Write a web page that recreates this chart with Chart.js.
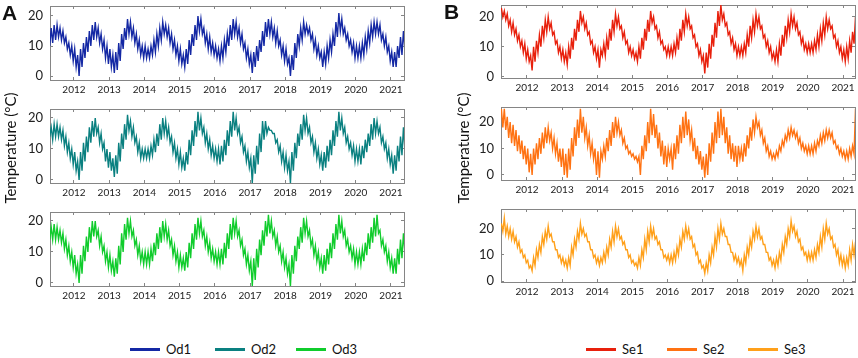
<!DOCTYPE html>
<html>
<head>
<meta charset="utf-8">
<script src="https://cdn.jsdelivr.net/npm/chart.js@4.4.0/dist/chart.umd.min.js"></script>
<style>
  body { margin: 0; background: #fff; }
  #wrap { position: relative; width: 858px; height: 358px; overflow: hidden; font-family: Lato, "Open Sans", sans-serif; color: #111; }
  canvas { position: absolute; }
  .tag { position: absolute; font: bold 21px "Liberation Sans", Arial, sans-serif; }
  .ytitle { position: absolute; font-size: 15px; white-space: nowrap; transform: translate(-50%, -50%) rotate(-90deg); }
  .leg { position: absolute; font-size: 13px; white-space: nowrap; }
  .leg i { position: absolute; height: 3px; width: 30px; }
</style>
</head>
<body>
<div id="wrap"></div>
<script>
// monthly values from Apr 2011 to May 2021, two per month (high, low), °C
var startYear = 2011.25;
var yearTicks = [2012, 2013, 2014, 2015, 2016, 2017, 2018, 2019, 2020, 2021];
var tempTicks = [0, 10, 20];
var names = ['Od1', 'Od2', 'Od3', 'Se1', 'Se2', 'Se3'];

var od1 = [
  15,10, 16,11, 17,12, 17,13, 16,12, 15,11, 13,9, 11,7, 10,5,
  9,3, 7,0, 9,3, 11,6, 13,8, 15,10, 17,12, 18,13, 16,11, 14,9, 12,6, 10,4,
  9,3, 7,1, 8,2, 11,5, 14,9, 16,12, 19,14, 18,13, 16,11, 14,9, 12,7, 10,6,
  10,6, 9,6, 10,7, 12,8, 14,10, 16,12, 18,14, 17,13, 16,11, 14,9, 12,7, 10,5,
  9,4, 7,3, 9,4, 12,7, 14,10, 17,12, 20,15, 19,14, 16,11, 14,9, 13,8, 11,7,
  10,6, 9,5, 10,6, 12,8, 14,10, 17,12, 19,14, 18,13, 16,11, 14,9, 11,6, 9,4,
  7,1, 8,3, 10,5, 12,8, 15,10, 18,13, 19,14, 18,13, 16,11, 15,10, 12,7, 10,5,
  9,4, 6,0, 7,2, 11,6, 14,10, 16,12, 18,14, 17,14, 16,12, 14,9, 12,7, 10,6,
  8,3, 8,4, 10,6, 12,8, 14,10, 18,13, 21,15, 19,14, 16,12, 14,10, 12,8, 11,6,
  10,6, 10,6, 11,7, 13,9, 15,11, 17,13, 18,14, 18,14, 17,12, 14,10, 13,8, 10,5,
  8,3, 8,3, 10,6, 13,7, 15,9
];
var od2 = [
  20,14, 17,13, 18,14, 18,14, 17,13, 16,11, 14,9, 12,7, 10,5,
  9,3, 6,0, 9,3, 12,6, 14,9, 17,12, 19,14, 20,15, 17,12, 15,10, 12,6, 10,4,
  9,3, 7,1, 8,2, 12,6, 15,10, 18,13, 21,16, 19,14, 17,12, 14,9, 12,7, 10,7,
  10,7, 10,7, 11,8, 13,9, 15,11, 18,13, 20,15, 19,14, 17,12, 14,9, 12,7, 10,5,
  9,4, 7,3, 9,5, 13,8, 16,11, 19,14, 22,16, 20,15, 17,12, 15,10, 13,8, 11,7,
  10,6, 10,5, 11,6, 13,8, 16,11, 19,14, 22,16, 20,15, 17,12, 14,9, 11,6, 9,4,
  7,-1, 8,2, 11,5, 15,9, 19,13, 19,15, 17,16, 16,15, 15,12, 13,9, 11,6, 9,4,
  8,3, 6,-1, 9,3, 12,7, 15,11, 18,13, 21,16, 20,15, 17,12, 14,9, 12,7, 10,5,
  8,3, 9,4, 11,6, 13,8, 16,11, 19,14, 22,16, 20,15, 17,12, 14,10, 12,8, 11,6,
  10,6, 10,5, 11,7, 13,9, 15,11, 18,13, 20,15, 19,15, 17,12, 14,10, 12,7, 10,5,
  8,2, 8,3, 11,6, 14,8, 17,10
];
var od3 = [
  20,14, 18,14, 19,14, 18,14, 17,13, 16,11, 14,9, 12,7, 10,5,
  9,3, 6,0, 9,3, 12,7, 15,10, 18,13, 20,15, 20,15, 17,12, 15,10, 12,7, 10,5,
  9,4, 7,2, 8,3, 12,6, 16,10, 19,14, 21,16, 20,15, 17,12, 14,9, 12,7, 10,6,
  10,6, 10,6, 11,7, 13,9, 16,11, 18,13, 20,15, 19,14, 17,12, 14,9, 12,7, 10,5,
  9,5, 8,4, 10,5, 13,8, 16,11, 19,14, 21,16, 20,15, 17,12, 15,10, 13,8, 11,7,
  10,6, 10,6, 11,6, 13,8, 16,11, 19,14, 21,16, 20,15, 17,12, 14,9, 11,6, 9,4,
  7,-1, 8,1, 11,5, 14,9, 17,12, 20,15, 22,16, 20,15, 17,12, 15,10, 12,7, 10,5,
  8,3, 6,-1, 9,3, 12,7, 15,11, 18,13, 21,16, 20,15, 17,12, 14,9, 12,7, 10,5,
  8,3, 9,4, 11,6, 13,8, 16,11, 19,14, 22,16, 20,15, 17,12, 14,10, 12,8, 11,6,
  10,6, 10,6, 11,7, 13,9, 16,11, 18,13, 21,15, 22,16, 17,12, 14,10, 12,7, 10,5,
  8,3, 8,3, 11,6, 14,8, 16,10
];
var se1 = [
  23,20, 22,19, 21,17, 19,15, 18,14, 16,12, 14,10, 12,8, 11,6,
  9,5, 7,2, 10,5, 12,8, 14,10, 17,13, 19,15, 20,16, 18,14, 15,11, 12,8, 10,6,
  9,5, 8,4, 10,6, 13,9, 16,12, 19,15, 22,18, 20,16, 18,14, 15,11, 12,8, 10,6,
  9,3, 9,7, 11,7, 13,9, 16,12, 19,15, 21,17, 20,16, 17,13, 15,11, 12,8, 10,7,
  9,6, 8,5, 10,6, 13,9, 16,12, 19,15, 22,18, 20,16, 17,13, 15,11, 12,9, 10,7,
  10,7, 10,7, 11,8, 13,9, 16,12, 19,15, 21,17, 20,16, 17,13, 14,10, 11,7, 9,5,
  7,1, 8,3, 11,6, 14,10, 18,13, 22,17, 24,19, 21,17, 18,14, 15,11, 13,9, 11,7,
  10,7, 10,7, 11,8, 14,10, 17,13, 19,15, 21,17, 20,16, 17,13, 14,10, 12,8, 10,6,
  8,5, 9,5, 11,7, 14,10, 17,13, 19,15, 21,17, 20,16, 18,14, 15,11, 13,9, 11,8,
  11,8, 11,8, 12,9, 14,10, 16,12, 18,14, 20,16, 19,16, 17,13, 14,10, 12,8, 10,6,
  9,5, 10,6, 12,8, 15,11, 20,14
];
var se2 = [
  25,18, 25,17, 22,14, 20,12, 19,11, 17,9, 15,8, 13,6, 11,4,
  10,1, 8,0, 10,4, 12,6, 14,8, 16,10, 18,12, 18,13, 16,10, 14,8, 12,5, 10,3,
  10,0, 8,-1, 10,2, 14,7, 18,11, 21,14, 25,16, 22,14, 18,11, 15,8, 12,6, 10,0,
  9,-1, 9,6, 11,7, 14,9, 17,11, 20,14, 22,16, 20,15, 17,12, 14,10, 11,8, 9,7,
  8,6, 7,5, 7,0, 11,6, 15,9, 20,12, 25,15, 23,14, 19,10, 16,7, 13,4, 11,3,
  10,6, 10,2, 12,6, 15,8, 19,12, 22,14, 24,15, 21,13, 17,9, 14,6, 11,4, 9,2,
  7,-1, 8,0, 12,5, 16,8, 20,12, 24,14, 25,15, 22,12, 18,8, 15,6, 12,5, 11,3,
  11,6, 10,5, 12,7, 15,10, 18,13, 21,16, 22,18, 20,15, 17,12, 14,9, 11,7, 9,6,
  8,6, 9,7, 11,9, 13,11, 15,13, 17,14, 18,15, 17,14, 16,12, 14,10, 12,9, 11,8,
  11,8, 11,8, 12,9, 13,11, 15,12, 16,13, 17,14, 17,14, 16,12, 13,10, 11,8, 10,7,
  9,6, 9,6, 10,7, 11,8, 25,10
];
var se3 = [
  22,19, 24,18, 21,17, 20,16, 19,15, 17,13, 15,11, 12,9, 10,7,
  8,5, 6,4, 9,6, 12,9, 14,11, 17,14, 19,16, 21,17, 18,15, 15,12, 12,9, 10,7,
  9,6, 8,5, 9,6, 13,10, 16,13, 19,16, 22,18, 20,17, 18,15, 15,12, 12,9, 10,7,
  9,6, 9,7, 11,8, 13,10, 16,13, 19,15, 21,17, 20,16, 17,14, 15,12, 12,9, 10,7,
  8,6, 7,5, 9,6, 12,9, 16,12, 19,15, 21,17, 20,16, 17,14, 15,12, 12,9, 10,8,
  10,7, 10,7, 11,8, 13,10, 16,13, 19,16, 21,17, 20,16, 17,13, 14,10, 11,7, 8,5,
  6,3, 7,4, 10,7, 13,10, 17,13, 20,16, 22,18, 20,17, 17,14, 14,11, 11,8, 10,7,
  9,6, 8,4, 10,7, 13,10, 16,13, 19,16, 21,17, 20,16, 17,14, 14,11, 11,8, 9,6,
  8,5, 9,6, 11,8, 14,11, 17,14, 20,17, 23,19, 21,17, 19,15, 16,12, 13,10, 11,8,
  11,8, 11,8, 12,9, 14,11, 17,13, 20,16, 22,18, 20,16, 17,13, 14,10, 12,7, 10,6,
  9,5, 9,6, 12,8, 14,10, 15,12
];

var colors = ['#1428a4', '#0a8080', '#10cc2c', '#e8200c', '#ff7212', '#ffa01a'];
var series = [od1, od2, od3, se1, se2, se3];

// plot boxes in page pixels
var panels = [
  { left: 50,  right: 404, top: 6,   bottom: 80,  yMin: -1.33, yMax: 23.33, xMin: 2011.32, xMax: 2021.37 },
  { left: 50,  right: 404, top: 109, bottom: 183, yMin: -0.97, yMax: 22.9,  xMin: 2011.32, xMax: 2021.37 },
  { left: 50,  right: 404, top: 212, bottom: 286, yMin: -0.97, yMax: 22.9,  xMin: 2011.32, xMax: 2021.37 },
  { left: 501, right: 855, top: 5,   bottom: 78,  yMin: -0.5,  yMax: 24,    xMin: 2011.26, xMax: 2021.34 },
  { left: 501, right: 855, top: 107, bottom: 180, yMin: -1.9,  yMax: 25.7,  xMin: 2011.26, xMax: 2021.34 },
  { left: 501, right: 855, top: 209, bottom: 282, yMin: -0.3,  yMax: 27.5,  xMin: 2011.26, xMax: 2021.34 }
];

var wrap = document.getElementById('wrap');
var gray = '#858585';
var padL = 45, padT = 4, padR = 14, padB = 22;

function setTicks(list) {
  return function(scale) { scale.ticks = list.map(function(v) { return { value: v }; }); };
}

panels.forEach(function(p, k) {
  var c = document.createElement('canvas');
  c.width = p.right - p.left + padL + padR;
  c.height = p.bottom - p.top + padT + padB;
  c.style.left = (p.left - padL) + 'px';
  c.style.top = (p.top - padT) + 'px';
  wrap.appendChild(c);

  var pts = series[k].map(function(v, i) {
    return { x: startYear + (i + 0.5) / 24, y: v };
  });

  var edge = { drawOnChartArea: false, tickLength: -3, color: gray };
  new Chart(c.getContext('2d'), {
    type: 'line',
    data: {
      datasets: [{
        label: names[k],
        data: pts,
        borderColor: colors[k],
        borderWidth: 1.4,
        pointRadius: 0,
        tension: 0
      }]
    },
    options: {
      responsive: false,
      animation: false,
      layout: { padding: { left: 0, top: padT, right: padR, bottom: 0 } },
      plugins: { legend: { display: false }, tooltip: { enabled: false } },
      scales: {
        x: {
          type: 'linear', position: 'bottom', min: p.xMin, max: p.xMax,
          afterBuildTicks: setTicks(yearTicks),
          afterFit: function(s) { s.height = padB; s.paddingLeft = 0; s.paddingRight = 0; },
          grid: edge,
          border: { color: gray },
          ticks: { padding: 7, maxRotation: 0, autoSkip: false, color: '#222',
                   font: { family: 'Lato', size: 10 },
                   callback: function(v) { return String(v); } }
        },
        x2: {
          type: 'linear', position: 'top', min: p.xMin, max: p.xMax,
          afterBuildTicks: setTicks(yearTicks),
          afterFit: function(s) { s.height = 0; s.paddingLeft = 0; s.paddingRight = 0; },
          grid: edge, border: { color: gray }, ticks: { display: false }
        },
        y: {
          type: 'linear', position: 'left', min: p.yMin, max: p.yMax,
          afterBuildTicks: setTicks(tempTicks),
          afterFit: function(s) { s.width = padL; s.paddingTop = 0; s.paddingBottom = 0; },
          grid: edge,
          border: { color: gray },
          ticks: { padding: 10, color: '#222', font: { family: 'Lato', size: 13 },
                   callback: function(v) { return String(v); } }
        },
        y2: {
          type: 'linear', position: 'right', min: p.yMin, max: p.yMax,
          afterBuildTicks: setTicks(tempTicks),
          afterFit: function(s) { s.width = 0; s.paddingTop = 0; s.paddingBottom = 0; },
          grid: edge, border: { color: gray }, ticks: { display: false }
        }
      }
    }
  });
});

// panel letters, axis titles, legends
function addDiv(cls, text, x, y) {
  var d = document.createElement('div');
  d.className = cls;
  d.textContent = text;
  d.style.left = x + 'px';
  d.style.top = y + 'px';
  wrap.appendChild(d);
  return d;
}
addDiv('tag', 'A', 2, 1);
addDiv('tag', 'B', 444, 0);
addDiv('ytitle', 'Temperature (°C)', 10, 148);
addDiv('ytitle', 'Temperature (°C)', 463, 148);

var legendX = [130, 215, 296, 586, 667, 748];
names.forEach(function(n, k) {
  var d = addDiv('leg', '', legendX[k], 341);
  var line = document.createElement('i');
  line.style.background = colors[k];
  line.style.left = '0px';
  line.style.top = '7px';
  d.appendChild(line);
  var t = document.createElement('span');
  t.textContent = n;
  t.style.marginLeft = '36px';
  d.appendChild(t);
});
</script>
</body>
</html>
